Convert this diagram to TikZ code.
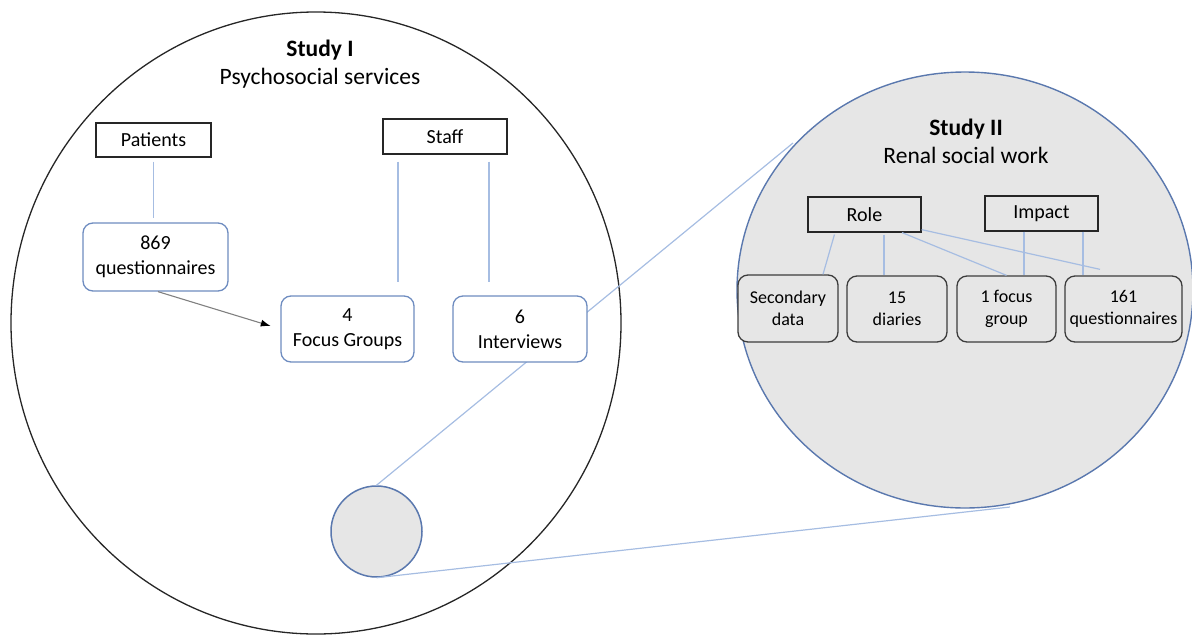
\documentclass[tikz,border=0pt]{standalone}
\usepackage{fontspec}
\setmainfont{Carlito}
\usetikzlibrary{arrows.meta,calc}
\definecolor{linkblue}{HTML}{A6BDE2}
\definecolor{boxblue}{HTML}{6E8CC0}
\definecolor{ringblue}{HTML}{5A78AE}
\definecolor{lensgray}{HTML}{E6E6E6}
\definecolor{edgegray}{HTML}{3C3C3C}
\definecolor{arrowgray}{HTML}{808080}

\begin{document}
\begin{tikzpicture}[x=1pt,y=-1pt,
  plainbox/.style={draw=black!85,line width=1.2pt,fill=white,inner sep=0pt,
    font=\fontsize{20}{25}\selectfont},
  roundbox/.style={draw=boxblue,line width=1.3pt,fill=white,rounded corners=10pt,
    inner sep=0pt,align=center,font=\fontsize{20}{25}\selectfont},
  lensbox/.style={draw=edgegray,line width=1.3pt,fill=lensgray,rounded corners=10pt,
    inner sep=0pt,align=center,font=\fontsize{18}{22}\selectfont},
  keybox/.style={draw=black!85,line width=1.2pt,fill=lensgray,inner sep=0pt,
    font=\fontsize{20}{25}\selectfont},
  link/.style={draw=linkblue,line width=1.2pt},
  title/.style={align=center,font=\fontsize{23.5}{28}\selectfont},
]
\useasboundingbox (0,0) rectangle (1192,635);
\clip (0,0) rectangle (1192,635);

% Study I outline
\draw[line width=1.3pt,black!85] (316,323) ellipse [x radius=305pt, y radius=311pt];

% magnifier: small lens and its projection lines
\node[circle,draw=ringblue,line width=1.5pt,fill=lensgray,minimum size=91pt,inner sep=0pt]
  (lens) at (376.5,531.5) {};
\coordinate (zoomtop) at (793,143);
\coordinate (zoombot) at (1010,507);
\draw[link] (lens.north) -- (zoomtop);
\draw[link] (lens.south) -- (zoombot);

% Study II enlarged view
\draw[draw=ringblue,line width=1.4pt,fill=lensgray] (965,290) ellipse [x radius=228pt, y radius=218pt];

% Study I content
\node[title] (t1) at (320,64) {\textbf{Study I}\\Psychosocial services};
\node[plainbox,minimum width=115pt,minimum height=34pt] (patients) at (153.5,140) {Patients};
\node[plainbox,minimum width=124pt,minimum height=35pt] (staff) at (445,136.5) {Staff};
\node[roundbox,minimum width=145pt,minimum height=68pt] (q869) at (155.5,257) {869\\questionnaires};
\node[roundbox,minimum width=133pt,minimum height=66pt] (fg4) at (347.5,329) {4\\Focus Groups};
\node[roundbox,minimum width=134pt,minimum height=66pt] (int6) at (520,329) {6\\Interviews};

\draw[link,shorten <=4pt,shorten >=4pt] (patients.south) -- (patients.south |- q869.north);
\coordinate (s1) at ([xshift=-47pt]staff.south);
\coordinate (s2) at ([xshift=44pt]staff.south);
\draw[link,shorten <=7pt,shorten >=13pt] (s1) -- (s1 |- fg4.north);
\draw[link,shorten <=7pt,shorten >=13pt] (s2) -- (s2 |- int6.north);
\draw[draw=arrowgray,line width=1.1pt,shorten >=10pt,-{Latex[length=10pt,width=7pt,black]}]
  ([xshift=2.5pt]q869.south) -- (fg4.west);

% Study II content
\node[title] (t2) at (966,141) {\textbf{Study II}\\Renal social work};
\node[keybox,minimum width=113pt,minimum height=35pt] (role) at (864.5,214.5) {Role};
\node[keybox,minimum width=113pt,minimum height=35pt] (impact) at (1041.5,213.5) {Impact};
\node[lensbox,minimum width=100pt,minimum height=67pt] (sec) at (788,308.5) {Secondary\\data};
\node[lensbox,minimum width=100pt,minimum height=66pt] (dia) at (897,309) {15\\diaries};
\node[lensbox,minimum width=99pt,minimum height=66pt] (foc) at (1006.5,309) {1 focus\\group};
\node[lensbox,minimum width=117pt,minimum height=66pt] (q161) at (1123.5,309) {161\\questionnaires};

\draw[link,shorten <=2pt] ([xshift=-29.5pt]role.south) -- ([xshift=35pt]sec.north);
\draw[link,shorten <=2pt] ([xshift=19.5pt]role.south) -- ([xshift=-13pt]dia.north);
\draw[link] ([xshift=37.5pt]role.south) -- (foc.north);
\draw[link] ([yshift=3pt]role.south east) -- ([xshift=-23.5pt,yshift=6pt]q161.north);
\draw[link] ([xshift=-17.5pt]impact.south) -- ([xshift=17.5pt]foc.north);
\draw[link] ([xshift=41.5pt]impact.south) -- ([xshift=-40.5pt]q161.north);
\end{tikzpicture}
\end{document}
